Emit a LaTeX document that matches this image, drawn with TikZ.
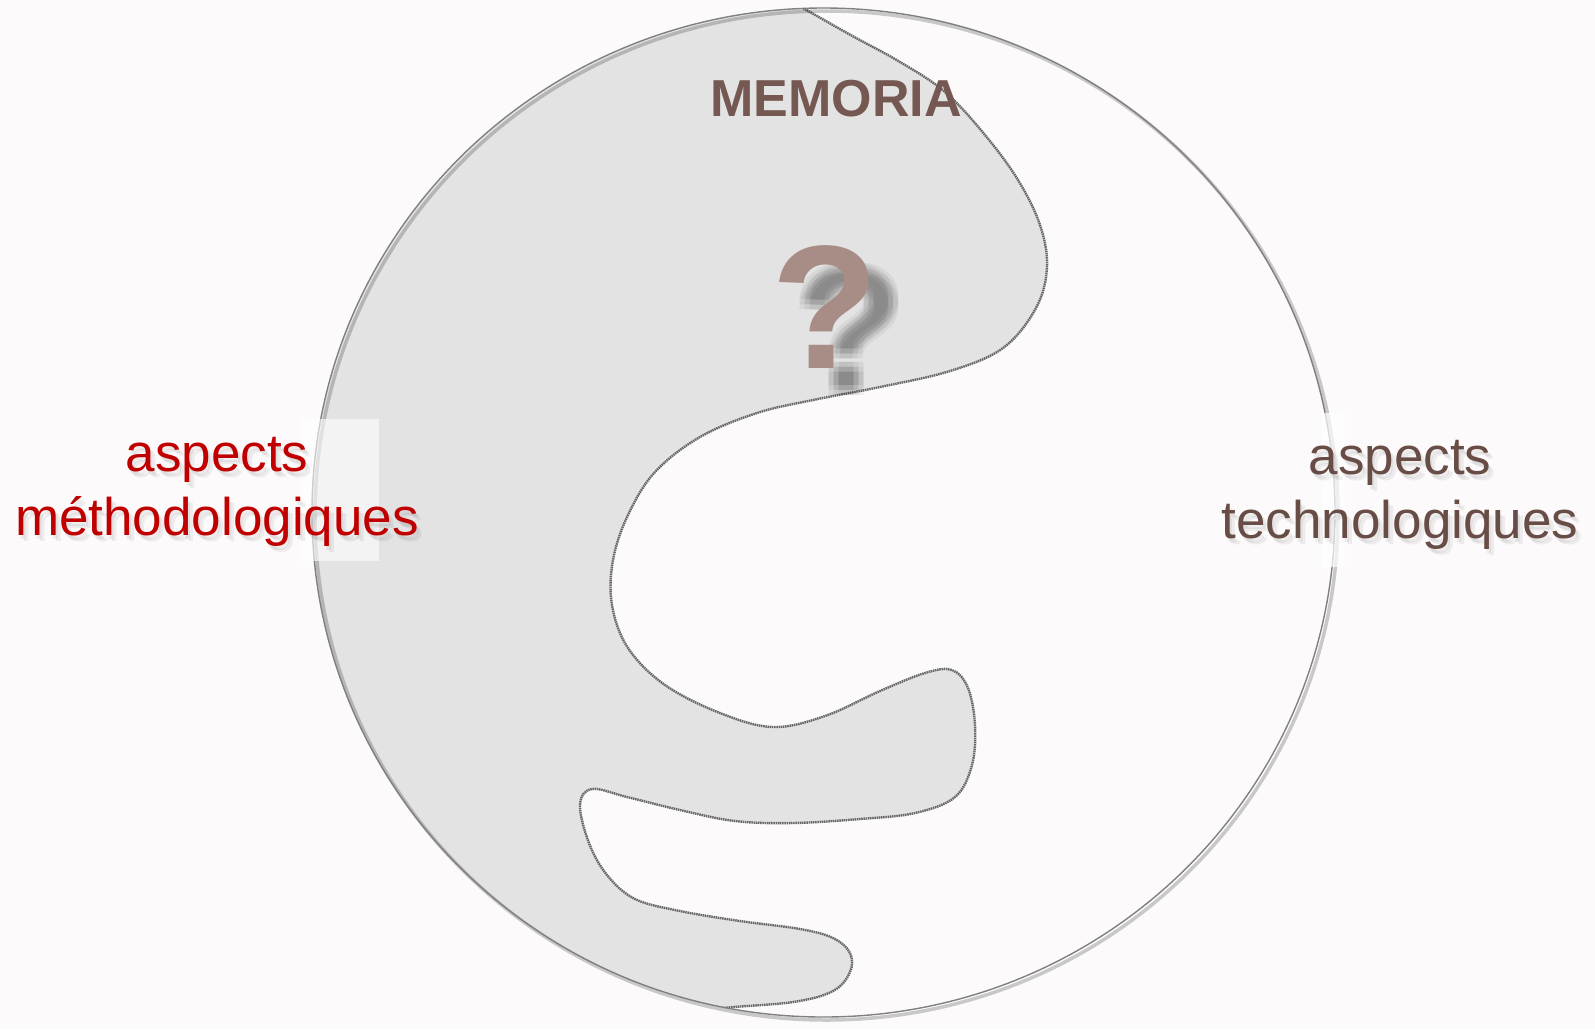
\documentclass[tikz,border=0pt]{standalone}
\usepackage{fontspec}
\setmainfont{Liberation Sans}
\definecolor{bgc}{RGB}{252,250,250}
\definecolor{blobc}{RGB}{227,227,227}
\definecolor{methc}{RGB}{192,0,0}
\definecolor{techc}{RGB}{104,76,70}
\definecolor{memoc}{RGB}{117,88,81}
\definecolor{questc}{RGB}{168,141,135}

\begin{document}
\begin{tikzpicture}[x=1pt,y=-1pt,
  lbl/.style={align=center,font=\fontsize{53}{64}\selectfont},
  quest/.style={anchor=base,font=\bfseries\fontsize{176}{176}\selectfont},
  rim/.style={draw=black!60,line width=2.4pt,dash pattern=on 1.5pt off 0.7pt}]
\useasboundingbox[fill=bgc] (0,0) rectangle (1595,1029);
\coordinate (c) at (823.5,512.5);
\def\blobline{(782,-4) (847,33) (900,62) (945,92) (985,135) (1018,180) (1040,225)
    (1047,267) (1036,308) (1003,348) (950,371) (880,387) (813,400) (757,413) (700,437)
    (655,472) (628,515) (613,560) (612,605) (628,648) (665,685) (720,713) (773,727)
    (825,716) (880,691) (925,673) (952,670) (968,688) (975,725) (972,765) (955,797)
    (915,813) (860,819) (793,823) (735,821) (680,810) (627,797) (592,789) (580,805)
    (589,843) (607,875) (635,899) (680,911) (740,921) (800,929) (833,938) (850,953)
    (850,972) (833,991) (793,1002) (723,1008) (690,1014)}
\begin{scope}
  \clip (c) ellipse [x radius=511.5pt, y radius=504.5pt];
  \fill[blobc] plot[smooth,tension=0.6] coordinates {\blobline}
    -- (690,1040) -- (-10,1040) -- (-10,-10) -- (782,-10) -- cycle;
  \draw[rim] plot[smooth,tension=0.6] coordinates {\blobline};
\end{scope}
\draw[black,opacity=0.2,line width=3.5pt] ([shift={(3,3)}]c) ellipse [x radius=511.5pt, y radius=504.5pt];
\draw[black!50,line width=1.4pt] (c) ellipse [x radius=511.5pt, y radius=504.5pt];
\fill[white,opacity=0.6] (300,419) rectangle (379,561);
\fill[white,opacity=0.7] (1322,413) rectangle (1345,567);

\foreach \dx in {-5,0,5}
  \foreach \dy in {-5,0,5}
    \node[quest,text=black,opacity=0.05] at (850+\dx,390+\dy) {?};
\node[quest,text=questc] (q) at (825,368) {?};
\node[font=\bfseries\fontsize{52}{52}\selectfont,text=memoc] (memoria) at (836,99) {MEMORIA};

\foreach \dx/\dy in {2/4,5/6}
  {\node[lbl,text=black,opacity=0.06] at (217+\dx,492+\dy) {aspects\\méthodologiques};
   \node[lbl,text=black,opacity=0.06] at (1400+\dx,495+\dy) {aspects\\technologiques};}
\node[lbl,text=methc] (meth) at (217,492) {aspects\\méthodologiques};
\node[lbl,text=techc] (tech) at (1400,495) {aspects\\technologiques};
\end{tikzpicture}
\end{document}
